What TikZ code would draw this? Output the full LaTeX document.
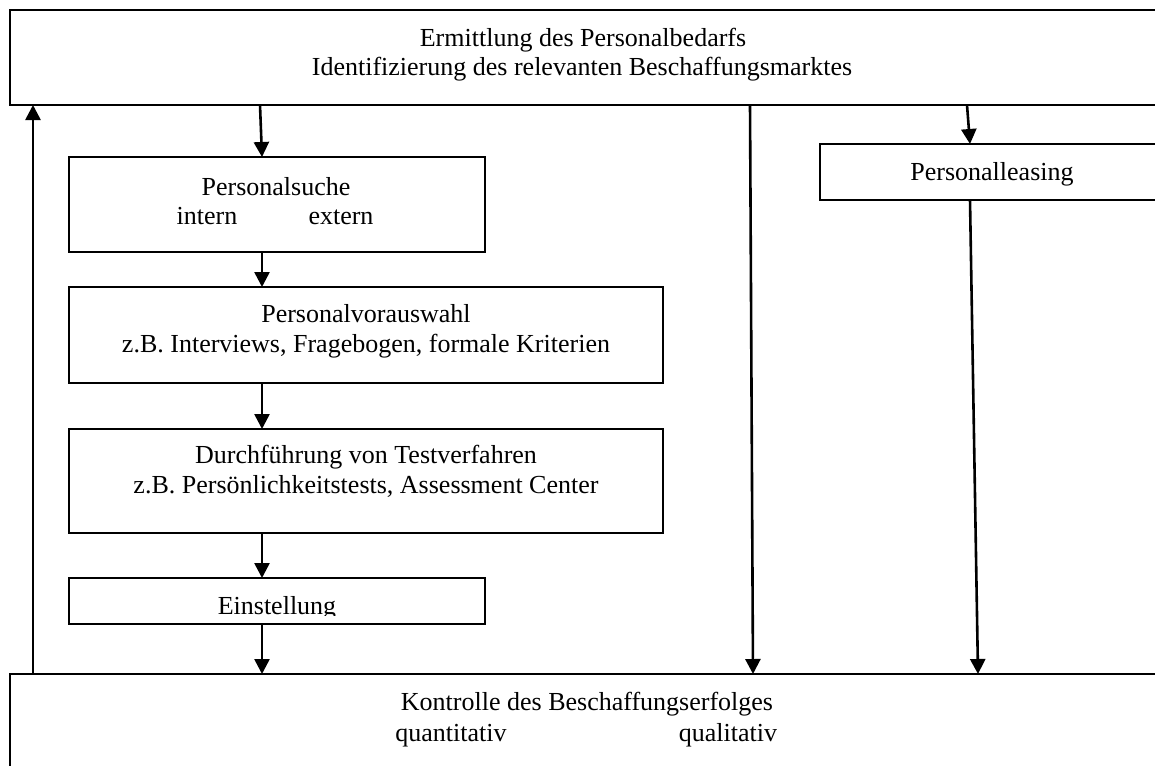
\documentclass[tikz,border=0pt]{standalone}
\usepackage{fontspec}
\setmainfont{Liberation Serif}
\usetikzlibrary{arrows.meta,calc}
\tikzset{
  box/.style={draw=black, line width=2.2pt, rectangle, inner sep=0pt, outer sep=0pt, anchor=north west},
  txt/.style={inner sep=0pt, outer sep=0pt, anchor=base, font=\fontsize{26}{30}\selectfont},
  arr/.style={line width=2.6pt, -{Triangle[length=15pt,width=15pt]}},
}
\begin{document}
\begin{tikzpicture}[x=1pt,y=-1pt]
\useasboundingbox (0,0) rectangle (1155,765);
\clip (0,0) rectangle (1155,765);
% boxes
\node[box, minimum width=1165pt, minimum height=95pt] (top) at (10,10) {};
\node[box, minimum width=416pt, minimum height=95pt] (ps) at (69,157) {};
\node[box, minimum width=594pt, minimum height=96pt] (pv) at (69,287) {};
\node[box, minimum width=594pt, minimum height=104pt] (dt) at (69,429) {};
\node[box, minimum width=416pt, minimum height=46pt] (ein) at (69,578) {};
\node[box, minimum width=355pt, minimum height=56pt] (pl) at (820,144) {};
\node[box, minimum width=1165pt, minimum height=116pt] (ko) at (10,674) {};
% texts
\node[txt] (t1) at (583,47) {Ermittlung des Personalbedarfs};
\node[txt] (t2) at (582,76) {Identifizierung des relevanten Beschaffungsmarktes};
\node[txt] (t3) at (276,195) {Personalsuche};
\node[txt] (t4) at (207,224) {intern};
\node[txt] (t5) at (341,224) {extern};
\node[txt] (t6) at (366,322) {Personalvorauswahl};
\node[txt] (t7) at (366,352) {z.B. Interviews, Fragebogen, formale Kriterien};
\node[txt] (t8) at (366,463) {Durchführung von Testverfahren};
\node[txt] (t9) at (366,493) {z.B. Persönlichkeitstests, Assessment Center};
\begin{scope}
\clip (69,578) rectangle (485,615);
\node[txt] (t10) at (277,614) {Einstellung};
\end{scope}
\node[txt] (t11) at (992,180) {Personalleasing};
\node[txt] (t12) at (587,710) {Kontrolle des Beschaffungserfolges};
\node[txt] (t13) at (451,741) {quantitativ};
\node[txt] (t14) at (728,741) {qualitativ};
% connectors
\draw[arr] ($(top.south west)+(250,0)$) -- ($(ps.north west)+(193,0)$);
\draw[arr] ($(ko.north west)+(23,0)$) -- ($(top.south west)+(23,0)$);
\draw[arr] ($(ps.south west)+(193,0)$) -- ($(pv.north west)+(193,0)$);
\draw[arr] ($(pv.south west)+(193,0)$) -- ($(dt.north west)+(193,0)$);
\draw[arr] ($(dt.south west)+(193,0)$) -- ($(ein.north west)+(193,0)$);
\draw[arr] ($(ein.south west)+(193,0)$) -- ($(ko.north west)+(252,0)$);
\draw[arr] ($(top.south west)+(740,0)$) -- ($(ko.north west)+(743,0)$);
\draw[arr] ($(top.south west)+(957,0)$) -- ($(pl.north west)+(150,0)$);
\draw[arr] ($(pl.south west)+(150,0)$) -- ($(ko.north west)+(968,0)$);
\end{tikzpicture}
\end{document}
